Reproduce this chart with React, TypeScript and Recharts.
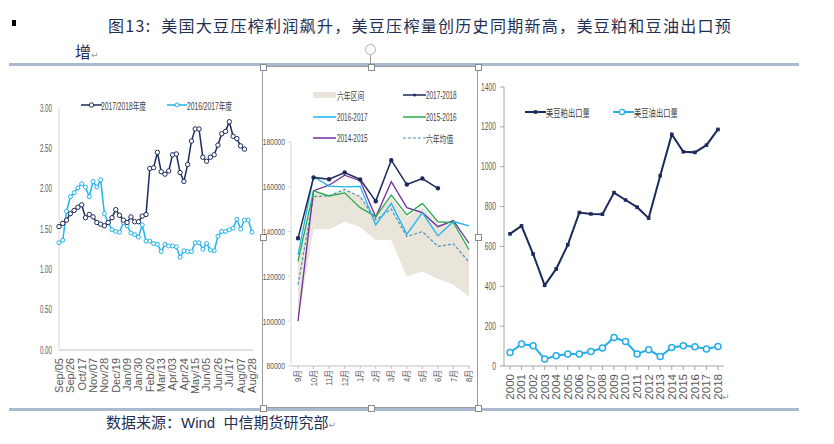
import React from 'react';
import { LineChart, Line, XAxis, YAxis, ComposedChart, Area } from 'recharts';

// ---------- Chart 1: US soybean crush margin (weekly) ----------
const weeks = [
  'Sep/05', 'Sep/12', 'Sep/19', 'Sep/26', 'Oct/03', 'Oct/10', 'Oct/17', 'Oct/24', 'Oct/31',
  'Nov/07', 'Nov/14', 'Nov/21', 'Nov/28', 'Dec/05', 'Dec/12', 'Dec/19', 'Dec/26',
  'Jan/02', 'Jan/09', 'Jan/16', 'Jan/23', 'Jan/30', 'Feb/06', 'Feb/13', 'Feb/20', 'Feb/27',
  'Mar/06', 'Mar/13', 'Mar/20', 'Mar/27', 'Apr/03', 'Apr/10', 'Apr/17', 'Apr/24',
  'May/01', 'May/08', 'May/15', 'May/22', 'May/29', 'Jun/05', 'Jun/12', 'Jun/19', 'Jun/26',
  'Jul/03', 'Jul/10', 'Jul/17', 'Jul/24', 'Jul/31', 'Aug/07', 'Aug/14', 'Aug/21', 'Aug/28',
];
const margin1718 = [
  1.53, 1.57, 1.61, 1.69, 1.73, 1.77, 1.80, 1.64, 1.68, 1.65, 1.58, 1.56,
  1.54, 1.58, 1.64, 1.74, 1.67, 1.61, 1.58, 1.65, 1.59, 1.59, 1.66, 1.68,
  2.25, 2.26, 2.45, 2.21, 2.18, 2.22, 2.42, 2.43, 2.20, 2.09, 2.30, 2.59, 2.74,
  2.74, 2.39, 2.34, 2.39, 2.42, 2.54, 2.68, 2.71, 2.83, 2.65, 2.62, 2.53, 2.49,
  null, null,
];
const margin1617 = [
  1.33, 1.36, 1.72, 1.90, 1.95, 2.01, 2.06, 2.02, 1.90, 2.09, 2.02, 2.11, 1.69,
  1.58, 1.49, 1.47, 1.46, 1.58, 1.54, 1.45, 1.43, 1.40, 1.55, 1.35, 1.35, 1.32,
  1.31, 1.22, 1.31, 1.29, 1.29, 1.28, 1.15, 1.23, 1.22, 1.22, 1.33, 1.33, 1.25,
  1.32, 1.24, 1.23, 1.41, 1.47, 1.47, 1.49, 1.51, 1.62, 1.50, 1.61, 1.61, 1.46,
];
const ticks1 = [0, 0.5, 1, 1.5, 2, 2.5, 3];

// ---------- Chart 2: US monthly crush volume ----------
const months = ['9月', '10月', '11月', '12月', '1月', '2月', '3月', '4月', '5月', '6月', '7月', '8月'];
const crush1718 = [137000, 164200, 163400, 166400, 163300, 153600, 171900, 161000, 163700, 159300, null, null];
const crush1617 = [129600, 164500, 160300, 160000, 160200, 143000, 152600, 138800, 148500, 138100, 144500, 142600];
const crush1516 = [126700, 158200, 155900, 157300, 150700, 146700, 156300, 147500, 152600, 144400, 144000, 131900];
const crush1415 = [100000, 158300, 160700, 165200, 162700, 146500, 162300, 150700, 148500, 142200, 144900, 134800];
const crushAvg6 = [116300, 155600, 156000, 158800, 155600, 145200, 150000, 137800, 140000, 133400, 134500, 126400];
const bandLow = [100000, 141000, 141000, 144400, 142000, 136300, 136300, 120000, 122200, 118800, 116300, 111100];
const bandHigh = [127000, 157500, 156500, 158500, 156000, 147000, 155000, 146500, 151000, 143500, 143500, 131500];
const ticks2 = [80000, 90000, 100000, 110000, 120000, 130000, 140000, 150000, 160000, 170000, 180000];

// ---------- Chart 3: US soymeal / soyoil exports ----------
const years = ['2000', '2001', '2002', '2003', '2004', '2005', '2006', '2007', '2008', '2009',
  '2010', '2011', '2012', '2013', '2014', '2015', '2016', '2017', '2018'];
const mealExport = [663, 703, 562, 405, 487, 608, 770, 763, 762, 870, 833, 797, 742, 955, 1162, 1075, 1072, 1108, 1187];
const oilExport = [68, 110, 102, 35, 52, 60, 60, 73, 90, 143, 123, 60, 82, 48, 93, 102, 97, 85, 98];
const ticks3 = [0, 200, 400, 600, 800, 1000, 1200, 1400];

const data1 = weeks.map((w, i) => ({ week: w, a: margin1718[i], b: margin1617[i] }));
const data2 = months.map((m, i) => ({
  month: m,
  band: [bandLow[i], bandHigh[i]],
  s1718: crush1718[i],
  s1617: crush1617[i],
  s1516: crush1516[i],
  s1415: crush1415[i],
  avg: crushAvg6[i],
}));
const data3 = years.map((y, i) => ({ year: y, meal: mealExport[i], oil: oilExport[i] }));

const FONT = "'Liberation Sans', 'Noto Sans CJK SC', sans-serif";
const CJK = "'Noto Sans CJK SC', sans-serif";
const TICK = '#595959';
const NAVY = '#1c2a5c';
const SKY = '#22b2ec';
const TXT = '#1f2f55';

function yTick(fs: number, sx: number, fmt: (v: number) => string) {
  return (p: any) => (
    <g transform={`translate(${p.x},${p.y})`}>
      <text transform={`scale(${sx},1)`} textAnchor="end" dy="0.35em" fontSize={fs} fill={TICK} fontFamily={FONT}>
        {fmt(p.payload.value)}
      </text>
    </g>
  );
}
function rotTick(fs: number, sx: number, off: number) {
  return (p: any) => (
    <g transform={`translate(${p.x},${p.y + off}) rotate(-90)`}>
      <text transform={`scale(${sx},1)`} textAnchor="end" dy="0.35em" fontSize={fs} fill={TICK} fontFamily={FONT}>
        {p.payload.value}
      </text>
    </g>
  );
}

const SquareDot = (p: any) => {
  if (p.cx == null || p.cy == null) return <g />;
  return <rect x={p.cx - 1.8} y={p.cy - 1.8} width={3.6} height={3.6} fill={NAVY} />;
};

function LegendText({ x, y, text, sx, fs = 10 }: { x: number; y: number; text: string; sx: number; fs?: number }) {
  return (
    <div style={{ position: 'absolute', left: x, top: y - 7, height: 14, display: 'flex', alignItems: 'center', whiteSpace: 'nowrap' }}>
      <span style={{ fontFamily: FONT, fontSize: fs, color: '#404040', transform: `scaleX(${sx})`, transformOrigin: 'left center', display: 'inline-block' }}>
        {text}
      </span>
    </div>
  );
}

function Swatch({ x, y, w, children }: { x: number; y: number; w: number; children: React.ReactNode }) {
  return (
    <svg style={{ position: 'absolute', left: x, top: y - 5 }} width={w} height={10}>
      {children}
    </svg>
  );
}

const Handle = ({ x, y }: { x: number; y: number }) => (
  <div style={{ position: 'absolute', left: x - 3, top: y - 3, width: 5, height: 5, border: '1px solid #8a8a8a', background: '#fff' }} />
);

export default function App() {
  return (
    <div style={{ position: 'absolute', left: 0, top: 0, width: 834, height: 444, background: '#fff', overflow: 'hidden' }}>
      {/* bullet */}
      <div style={{ position: 'absolute', left: 12, top: 20, width: 4, height: 6, background: '#000' }} />
      {/* title */}
      <div style={{ position: 'absolute', left: 108, top: 13, fontFamily: CJK, fontSize: 16, color: TXT, whiteSpace: 'nowrap', letterSpacing: 1.3 }}>
        图13:&nbsp;&nbsp;美国大豆压榨利润飙升，美豆压榨量创历史同期新高，美豆粕和豆油出口预
      </div>
      <div style={{ position: 'absolute', left: 75, top: 39, fontFamily: CJK, fontSize: 16, color: TXT, whiteSpace: 'nowrap' }}>
        增<span style={{ fontSize: 9, color: '#999', fontFamily: "'DejaVu Sans'" }}>↵</span>
      </div>

      {/* rules */}
      <div style={{ position: 'absolute', left: 9, top: 63, width: 790, height: 3, background: '#a9bace' }} />
      <div style={{ position: 'absolute', left: 9, top: 408, width: 790, height: 3, background: '#a9bace' }} />

      {/* selection frame of the middle picture */}
      <div style={{ position: 'absolute', left: 262, top: 66, width: 216, height: 342, border: '1px solid #9a9a9a', boxSizing: 'border-box' }} />
      <div style={{ position: 'absolute', left: 370, top: 55, width: 1, height: 10, background: '#9a9a9a' }} />
      <div style={{ position: 'absolute', left: 365, top: 44, width: 9, height: 9, borderRadius: '50%', border: '1.5px solid #b0b0b0' }} />
      <Handle x={263} y={67} />
      <Handle x={371} y={67} />
      <Handle x={478} y={67} />
      <Handle x={263} y={237} />
      <Handle x={478} y={237} />
      <Handle x={263} y={408} />
      <Handle x={371} y={408} />
      <Handle x={478} y={408} />

      {/* ---------- Chart 1 ---------- */}
      <div style={{ position: 'absolute', left: 20, top: 90 }}>
        <LineChart width={240} height={318} data={data1} margin={{ top: 18, right: 7, left: 0, bottom: 8 }}>
          <XAxis dataKey="week" interval={2} tick={rotTick(11, 1.0, 0)} tickLine={false} axisLine={{ stroke: '#bfbfbf' }} height={50} padding={{ left: 0, right: 1 }} />
          <YAxis domain={[0, 3]} ticks={ticks1} tick={yTick(10, 0.62, (v) => v.toFixed(2))} tickLine={false} tickSize={5} axisLine={{ stroke: '#d9d9d9' }} width={39} />
          <Line dataKey="b" stroke={SKY} strokeWidth={1.5} dot={{ r: 2, fill: '#fff', stroke: SKY, strokeWidth: 1 }} isAnimationActive={false} />
          <Line dataKey="a" stroke={NAVY} strokeWidth={1.5} dot={{ r: 2.2, fill: '#fff', stroke: NAVY, strokeWidth: 1 }} isAnimationActive={false} />
        </LineChart>
      </div>
      <Swatch x={81} y={105} w={21}>
        <line x1={0} y1={5} x2={21} y2={5} stroke={NAVY} strokeWidth={1.5} />
        <circle cx={10.5} cy={5} r={2.2} fill="#fff" stroke={NAVY} strokeWidth={1} />
      </Swatch>
      <LegendText x={101} y={105} text="2017/2018年度" sx={0.67} />
      <Swatch x={167} y={105} w={20}>
        <line x1={0} y1={5} x2={20} y2={5} stroke={SKY} strokeWidth={1.5} />
        <circle cx={10} cy={5} r={2} fill="#fff" stroke={SKY} strokeWidth={1} />
      </Swatch>
      <LegendText x={187} y={105} text="2016/2017年度" sx={0.67} />

      {/* ---------- Chart 2 ---------- */}
      <div style={{ position: 'absolute', left: 262, top: 64 }}>
        <ComposedChart width={216} height={344} data={data2} margin={{ top: 78, right: 8, left: 0, bottom: 2 }}>
          <XAxis dataKey="month" interval={0} tick={rotTick(9, 0.85, -1)} tickSize={3} tickMargin={2} tickLine={{ stroke: '#bfbfbf' }} axisLine={{ stroke: '#bfbfbf' }} height={40} padding={{ left: 7, right: 1 }} />
          <YAxis domain={[80000, 180000]} ticks={ticks2} tick={yTick(9.5, 0.7, (v) => String(v))} tickSize={3} tickMargin={3} tickLine={{ stroke: '#d9d9d9' }} axisLine={{ stroke: '#d9d9d9' }} width={29} />
          <Area dataKey="band" fill="#e9e5da" fillOpacity={1} stroke="none" isAnimationActive={false} />
          <Line dataKey="avg" stroke="#4b95b6" strokeWidth={1.2} strokeDasharray="3 2" dot={false} isAnimationActive={false} />
          <Line dataKey="s1415" stroke="#7030a0" strokeWidth={1.3} dot={false} isAnimationActive={false} />
          <Line dataKey="s1516" stroke="#2aab4e" strokeWidth={1.3} dot={false} isAnimationActive={false} />
          <Line dataKey="s1617" stroke="#19b3ee" strokeWidth={1.3} dot={false} isAnimationActive={false} />
          <Line dataKey="s1718" stroke={NAVY} strokeWidth={1.5} dot={{ r: 1.5, fill: NAVY, stroke: NAVY }} isAnimationActive={false} />
        </ComposedChart>
      </div>
      <Swatch x={313} y={95} w={23}>
        <rect x={0} y={2} width={23} height={6} fill="#e9e5da" />
      </Swatch>
      <LegendText x={337} y={95} text="六年区间" sx={0.68} />
      <Swatch x={403} y={95} w={23}>
        <line x1={0} y1={5} x2={23} y2={5} stroke={NAVY} strokeWidth={1.5} />
        <circle cx={11.5} cy={5} r={1.5} fill={NAVY} />
      </Swatch>
      <LegendText x={426} y={95} text="2017-2018" sx={0.64} />
      <Swatch x={313} y={117} w={23}>
        <line x1={0} y1={5} x2={23} y2={5} stroke="#19b3ee" strokeWidth={1.5} />
      </Swatch>
      <LegendText x={337} y={117} text="2016-2017" sx={0.64} />
      <Swatch x={403} y={117} w={23}>
        <line x1={0} y1={5} x2={23} y2={5} stroke="#2aab4e" strokeWidth={1.5} />
      </Swatch>
      <LegendText x={426} y={117} text="2015-2016" sx={0.64} />
      <Swatch x={313} y={138} w={23}>
        <line x1={0} y1={5} x2={23} y2={5} stroke="#7030a0" strokeWidth={1.5} />
      </Swatch>
      <LegendText x={337} y={138} text="2014-2015" sx={0.64} />
      <Swatch x={403} y={138} w={23}>
        <line x1={0} y1={5} x2={23} y2={5} stroke="#4b95b6" strokeWidth={1.2} strokeDasharray="3 2" />
      </Swatch>
      <LegendText x={426} y={138} text="六年均值" sx={0.68} />

      {/* ---------- Chart 3 ---------- */}
      <div style={{ position: 'absolute', left: 478, top: 64 }}>
        <LineChart width={260} height={344} data={data3} margin={{ top: 23, right: 14, left: 0, bottom: 2 }}>
          <XAxis dataKey="year" interval={0} tick={rotTick(11, 1.05, 0)} tickSize={4} tickMargin={4} tickLine={{ stroke: '#a6a6a6' }} axisLine={{ stroke: '#a6a6a6' }} height={40} padding={{ left: 6, right: 6 }} />
          <YAxis domain={[0, 1400]} ticks={ticks3} tick={yTick(10, 0.67, (v) => String(v))} tickSize={4} tickMargin={4} tickLine={{ stroke: '#a6a6a6' }} axisLine={{ stroke: '#a6a6a6' }} width={26} />
          <Line dataKey="meal" stroke={NAVY} strokeWidth={2} dot={<SquareDot />} isAnimationActive={false} />
          <Line dataKey="oil" stroke="#27aee6" strokeWidth={2} dot={{ r: 3, fill: '#fff', stroke: '#27aee6', strokeWidth: 1.5 }} isAnimationActive={false} />
        </LineChart>
      </div>
      <Swatch x={525} y={112} w={21}>
        <line x1={0} y1={5} x2={21} y2={5} stroke={NAVY} strokeWidth={2} />
        <rect x={8.7} y={3.2} width={3.6} height={3.6} fill={NAVY} />
      </Swatch>
      <LegendText x={546} y={112} text="美豆粕出口量" sx={0.73} />
      <Swatch x={613} y={112} w={21}>
        <line x1={0} y1={5} x2={21} y2={5} stroke="#27aee6" strokeWidth={2} />
        <circle cx={9} cy={5} r={2.6} fill="#fff" stroke="#27aee6" strokeWidth={1.3} />
      </Swatch>
      <LegendText x={634} y={112} text="美豆油出口量" sx={0.73} />
      <div style={{ position: 'absolute', left: 722, top: 392, fontSize: 9, color: '#999', fontFamily: "'DejaVu Sans'" }}>↵</div>

      {/* footer */}
      <div style={{ position: 'absolute', left: 106, top: 411, fontFamily: "'Liberation Sans', 'Noto Sans CJK SC', sans-serif", fontSize: 15, color: TXT, whiteSpace: 'nowrap' }}>
        数据来源：Wind&nbsp;&nbsp;中信期货研究部<span style={{ fontSize: 9, color: '#999', fontFamily: "'DejaVu Sans'" }}>↵</span>
      </div>
    </div>
  );
}
